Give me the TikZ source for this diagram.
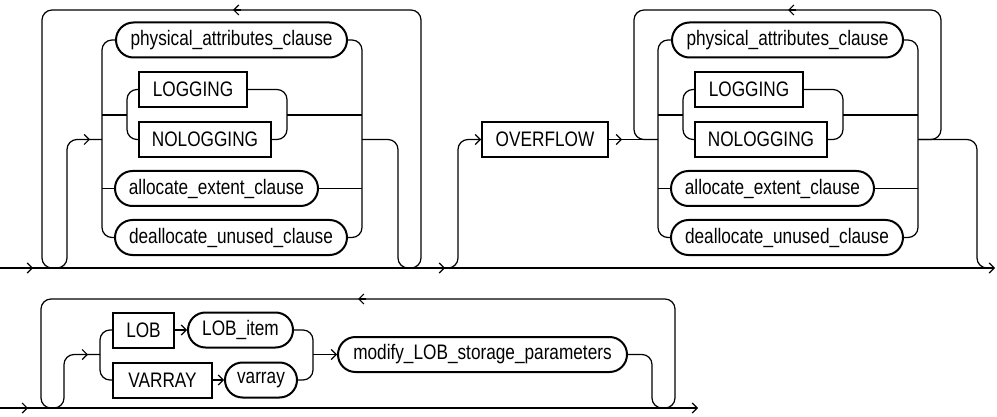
\documentclass[tikz,border=0pt]{standalone}
\usepackage{fontspec}
\setmainfont{Liberation Sans}[FakeStretch=0.82]
\usetikzlibrary{arrows.meta}
\begin{document}
\begin{tikzpicture}[x=1pt,y=-1pt,
  line/.style={line width=1.2pt, rounded corners=10pt},
  arr/.style={line width=1.2pt, -{Straight Barb[length=5pt,width=10pt]}},
  term/.style={draw, line width=2pt, minimum height=35pt, inner sep=0pt, font=\fontsize{21}{25}\selectfont},
  kw/.style={term},
  nt/.style={term, rounded corners=17.5pt},
]
\fill[white] (0,0) rectangle (997,417);
\useasboundingbox (0,0) rectangle (997,417);

% ---------- diagram 1 ----------
\node[nt, minimum width=231pt] (phys1) at (231.5,40) {physical\_attributes\_clause};
\node[kw, minimum width=108pt] (log1) at (193,89.5) {LOGGING};
\node[kw, minimum width=132pt] (nolog1) at (205,139.5) {NOLOGGING};
\node[nt, minimum width=203pt] (alloc1) at (216.5,188.5) {allocate\_extent\_clause};
\node[nt, minimum width=232pt] (dealloc1) at (231,237.5) {deallocate\_unused\_clause};

% main line
\draw[arr] (0,268) -- (995,268);
\draw[arr] (25,268) -- (33,268);
\draw[arr] (437,268) -- (445,268);

\draw[line] (55,268) -- (42,268) -- (42,10) -- (421,10) -- (421,268) -- (409,268);
\draw[arr] (241,10) -- (233,10);
\draw[line] (55,268) -- (67,268) -- (67,139.5) -- (102,139.5);
\draw[arr] (82,139.5) -- (90,139.5);
\draw[line] (362,139.5) -- (398,139.5) -- (398,268) -- (410,268);

\draw[line] (phys1.west) -| (102,237.5) -- (dealloc1.west);
\draw[line] (102,115) -- (127,115);
\draw[line] (102,188.5) -- (alloc1.west);
\draw[line] (log1.west) -| (127,139.5) -- (nolog1.west);
\draw[line] (log1.east) -| (287,139.5) -- (nolog1.east);
\draw[line] (287,115) -- (362,115);
\draw[line] (phys1.east) -| (362,237.5) -- (dealloc1.east);
\draw[line] (alloc1.east) -- (362,188.5);

% ---------- diagram 2 ----------
\node[kw, minimum width=126pt] (ovf) at (545,139.5) {OVERFLOW};
\node[nt, minimum width=231pt] (phys2) at (787.5,40) {physical\_attributes\_clause};
\node[kw, minimum width=108pt] (log2) at (749,89.5) {LOGGING};
\node[kw, minimum width=132pt] (nolog2) at (761,139.5) {NOLOGGING};
\node[nt, minimum width=203pt] (alloc2) at (772.5,188.5) {allocate\_extent\_clause};
\node[nt, minimum width=232pt] (dealloc2) at (787,237.5) {deallocate\_unused\_clause};

\draw[line] (446,268) -- (458,268) -- (458,139.5) -- (ovf.west);
\draw[arr] (474,139.5) -- (ovf.west);
\draw[line] (ovf.east) -- (658,139.5);
\draw[arr] (614,139.5) -- (622,139.5);
\draw[line] (658,139.5) -- (634,139.5) -- (634,10) -- (941,10) -- (941,139.5) -- (918,139.5);
\draw[arr] (796,10) -- (788,10);
\draw[line] (918,139.5) -- (977,139.5) -- (977,268) -- (990,268);

\draw[line] (phys2.west) -| (658,237.5) -- (dealloc2.west);
\draw[line] (658,115) -- (683,115);
\draw[line] (658,188.5) -- (alloc2.west);
\draw[line] (log2.west) -| (683,139.5) -- (nolog2.west);
\draw[line] (log2.east) -| (843,139.5) -- (nolog2.east);
\draw[line] (843,115) -- (918,115);
\draw[line] (phys2.east) -| (918,237.5) -- (dealloc2.east);
\draw[line] (alloc2.east) -- (918,188.5);

% ---------- diagram 3 ----------
\node[kw, minimum width=61pt] (lob) at (143.5,330) {LOB};
\node[nt, minimum width=105pt] (lobitem) at (240.5,330) {LOB\_item};
\node[kw, minimum width=99pt] (varr) at (162.5,380) {VARRAY};
\node[nt, minimum width=72pt] (varray) at (261,380) {varray};
\node[nt, minimum width=289pt] (modify) at (482.5,354.5) {modify\_LOB\_storage\_parameters};

\draw[arr] (0,408) -- (698,408);
\draw[arr] (20,408) -- (28,408);
\draw[line] (53,408) -- (41,408) -- (41,299) -- (675,299) -- (675,408) -- (663,408);
\draw[arr] (366,299) -- (358,299);
\draw[line] (53,408) -- (64,408) -- (64,354.5) -- (100,354.5);
\draw[arr] (80,354.5) -- (88,354.5);
\draw[line] (lob.west) -| (100,380) -- (varr.west);
\draw[arr] (lob.east) -- (lobitem.west);
\draw[arr] (varr.east) -- (varray.west);
\draw[line] (lobitem.east) -| (313,380) -- (varray.east);
\draw[arr] (313,354.5) -- (modify.west);
\draw[line] (modify.east) -- (652,354.5) -- (652,408) -- (663,408);
\end{tikzpicture}
\end{document}
